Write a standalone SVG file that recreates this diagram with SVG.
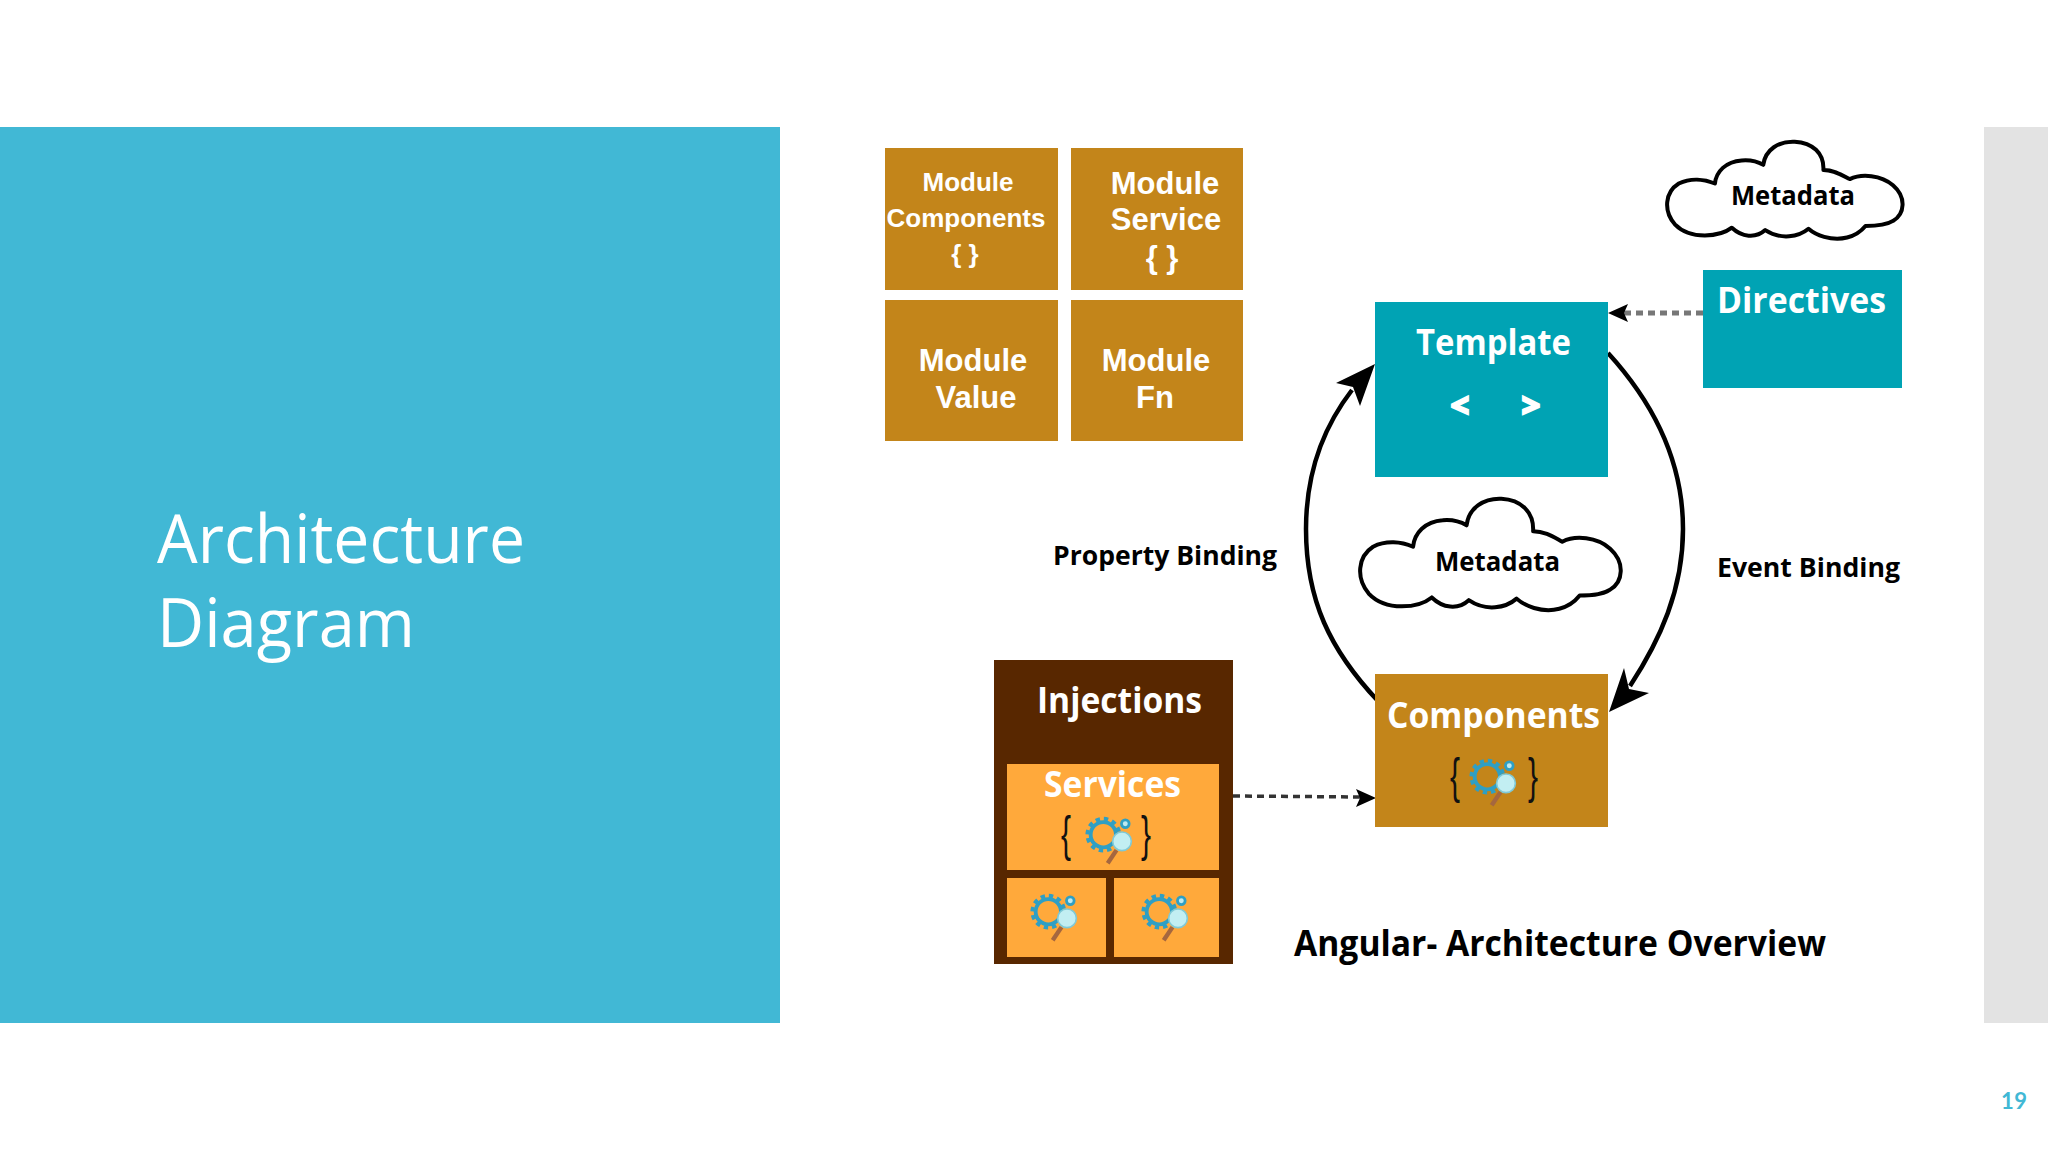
<svg xmlns="http://www.w3.org/2000/svg" width="2048" height="1152" viewBox="0 0 2048 1152">
<defs>
<style>
.t{font-family:"Open Sans","Liberation Sans",sans-serif;font-weight:700}
.m{font-family:"Liberation Sans",Arial,sans-serif;font-weight:700;fill:#fff;text-anchor:middle}
.w{fill:#fff}.k{fill:#000}
.h{font-family:"Open Sans","Liberation Sans",sans-serif;font-weight:400;fill:#fff;font-size:68px}
.b{font-family:"Liberation Sans",sans-serif;font-size:50px;fill:#111;text-anchor:middle}
.cloud{fill:#fff;stroke:#000;stroke-width:4;vector-effect:non-scaling-stroke;stroke-linejoin:round}
.arc{fill:none;stroke:#000;stroke-width:4.5}
.dash{fill:none}
</style>
<path id="cloudshape" class="cloud" d="M20,245C-10,205-5,150 30,125C60,108 95,112 122,125C125,90 150,60 190,57C210,55 230,60 245,70C250,25 285,0 325,2C370,5 400,35 398,85C425,85 445,100 465,112C495,95 545,100 575,130C610,165 605,215 575,235C555,250 525,250 505,250C480,285 440,295 400,282C385,277 370,268 360,258C335,282 290,292 250,262C225,288 190,282 165,255C135,282 60,292 20,245Z"/>
<g id="icon">
<circle cx="-7" cy="-3" r="14.5" fill="none" stroke="#2f9fc4" stroke-width="3.5" stroke-dasharray="4 3.6"/>
<circle cx="-7" cy="-3" r="11.5" fill="none" stroke="#2f9fc4" stroke-width="3.5"/>
<line x1="5" y1="11" x2="-3" y2="23" stroke="#a5673f" stroke-width="4"/>
<circle cx="10" cy="3" r="8.5" fill="#c2eef2" stroke="#7fc9d6" stroke-width="1.5"/>
<circle cx="13" cy="-13" r="3.5" fill="#bfeaf0" stroke="#2f9fc4" stroke-width="2.5"/>
</g>
</defs>
<rect width="2048" height="1152" fill="#fff"/>
<rect id="panel" x="0" y="127" width="780" height="896" fill="#41b8d5"/>
<rect id="sidebar" x="1984" y="127" width="64" height="896" fill="#e3e3e3"/>
<text class="h" x="157" y="563" textLength="368" lengthAdjust="spacingAndGlyphs">Architecture</text>
<text class="h" x="157" y="647" textLength="258" lengthAdjust="spacingAndGlyphs">Diagram</text>

<g id="module-components"><rect x="885" y="148" width="173" height="142" fill="#c3851a"/>
<text class="m" font-size="26"><tspan x="968" y="191">Module</tspan><tspan x="966" y="227">Components</tspan><tspan x="965" y="263">{ }</tspan></text></g>
<g id="module-service"><rect x="1071" y="148" width="172" height="142" fill="#c3851a"/>
<text class="m" font-size="31"><tspan x="1165" y="194">Module</tspan><tspan x="1166" y="230">Service</tspan><tspan x="1162" y="268">{ }</tspan></text></g>
<g id="module-value"><rect x="885" y="300" width="173" height="141" fill="#c3851a"/>
<text class="m" font-size="31"><tspan x="973" y="371">Module</tspan><tspan x="976" y="408">Value</tspan></text></g>
<g id="module-fn"><rect x="1071" y="300" width="172" height="141" fill="#c3851a"/>
<text class="m" font-size="31"><tspan x="1156" y="371">Module</tspan><tspan x="1155" y="408">Fn</tspan></text></g>

<g id="connectors">
<path class="arc" d="M1378,701C1330,650 1306,600 1306,529C1306,470 1325,425 1352,390"/>
<polygon class="k" points="1375,364 1336,383 1353,387 1360,406"/>
<path class="arc" d="M1608,353C1660,410 1683,470 1683,529C1683,590 1660,640 1630,686"/>
<polygon class="k" points="1609,712 1649,693 1629,689 1624,668"/>
<path class="dash" stroke="#777" stroke-width="5" stroke-dasharray="7 5" d="M1703,313H1624"/>
<polygon class="k" points="1608,313 1628,304 1624,313 1628,322"/>
<path class="dash" stroke="#333" stroke-width="3.5" stroke-dasharray="7 5" d="M1233,796L1362,797"/>
<polygon class="k" points="1376,798 1356,789 1360,798 1356,807"/>
</g>

<g id="metadata-top"><use href="#cloudshape" transform="translate(1667,141) scale(.393,.34)"/>
<text class="t k" x="1731" y="205" font-size="26" textLength="124" lengthAdjust="spacingAndGlyphs">Metadata</text></g>
<g id="directives"><rect x="1703" y="270" width="199" height="118" fill="#00a3b4"/>
<text class="t w" x="1717" y="313" font-size="35" textLength="169" lengthAdjust="spacingAndGlyphs">Directives</text></g>
<g id="template"><rect x="1375" y="302" width="233" height="175" fill="#00a3b4"/>
<text class="t w" x="1416" y="355" font-size="35" textLength="155" lengthAdjust="spacingAndGlyphs">Template</text>
<text class="t w" x="1460" y="417" font-size="32" text-anchor="middle" stroke="#fff" stroke-width="2.5">&lt;</text>
<text class="t w" x="1531" y="417" font-size="32" text-anchor="middle" stroke="#fff" stroke-width="2.5">&gt;</text></g>
<g id="metadata-mid"><use href="#cloudshape" transform="translate(1360,498) scale(.435,.39)"/>
<text class="t k" x="1435" y="571" font-size="26" textLength="125" lengthAdjust="spacingAndGlyphs">Metadata</text></g>
<g id="property-binding"><text class="t k" x="1053" y="565" font-size="27" textLength="224" lengthAdjust="spacingAndGlyphs">Property Binding</text></g>
<g id="event-binding"><text class="t k" x="1717" y="577" font-size="27" textLength="183" lengthAdjust="spacingAndGlyphs">Event Binding</text></g>

<g id="components"><rect x="1375" y="674" width="233" height="153" fill="#c3851a"/>
<text class="t w" x="1387" y="728" font-size="35" textLength="213" lengthAdjust="spacingAndGlyphs">Components</text>
<text class="b" x="1455" y="793" textLength="10" lengthAdjust="spacingAndGlyphs">{</text><text class="b" x="1533" y="793" textLength="10" lengthAdjust="spacingAndGlyphs">}</text>
<use href="#icon" transform="translate(1495,780) scale(1.1)"/></g>

<g id="injections"><rect x="994" y="660" width="239" height="304" fill="#582700"/>
<text class="t w" x="1037" y="713" font-size="35" textLength="165" lengthAdjust="spacingAndGlyphs">Injections</text></g>
<g id="services"><rect x="1007" y="764" width="212" height="106" fill="#ffa93b"/>
<text class="t w" x="1044" y="797" font-size="35" textLength="137" lengthAdjust="spacingAndGlyphs">Services</text>
<text class="b" x="1066" y="851" textLength="10" lengthAdjust="spacingAndGlyphs">{</text><text class="b" x="1146" y="851" textLength="10" lengthAdjust="spacingAndGlyphs">}</text>
<use href="#icon" transform="translate(1111,838) scale(1.1)"/></g>
<g id="service-a"><rect x="1007" y="878" width="99" height="79" fill="#ffa93b"/><use href="#icon" transform="translate(1056,915) scale(1.1)"/></g>
<g id="service-b"><rect x="1114" y="878" width="105" height="79" fill="#ffa93b"/><use href="#icon" transform="translate(1167,915) scale(1.1)"/></g>

<g id="caption"><text class="t k" x="1294" y="956" font-size="36" textLength="532" lengthAdjust="spacingAndGlyphs">Angular- Architecture Overview</text></g>
<text id="page" x="2001" y="1109" font-family="Lato,'Open Sans',sans-serif" font-size="22" font-weight="700" fill="#41b8d5" textLength="26">19</text>
</svg>
